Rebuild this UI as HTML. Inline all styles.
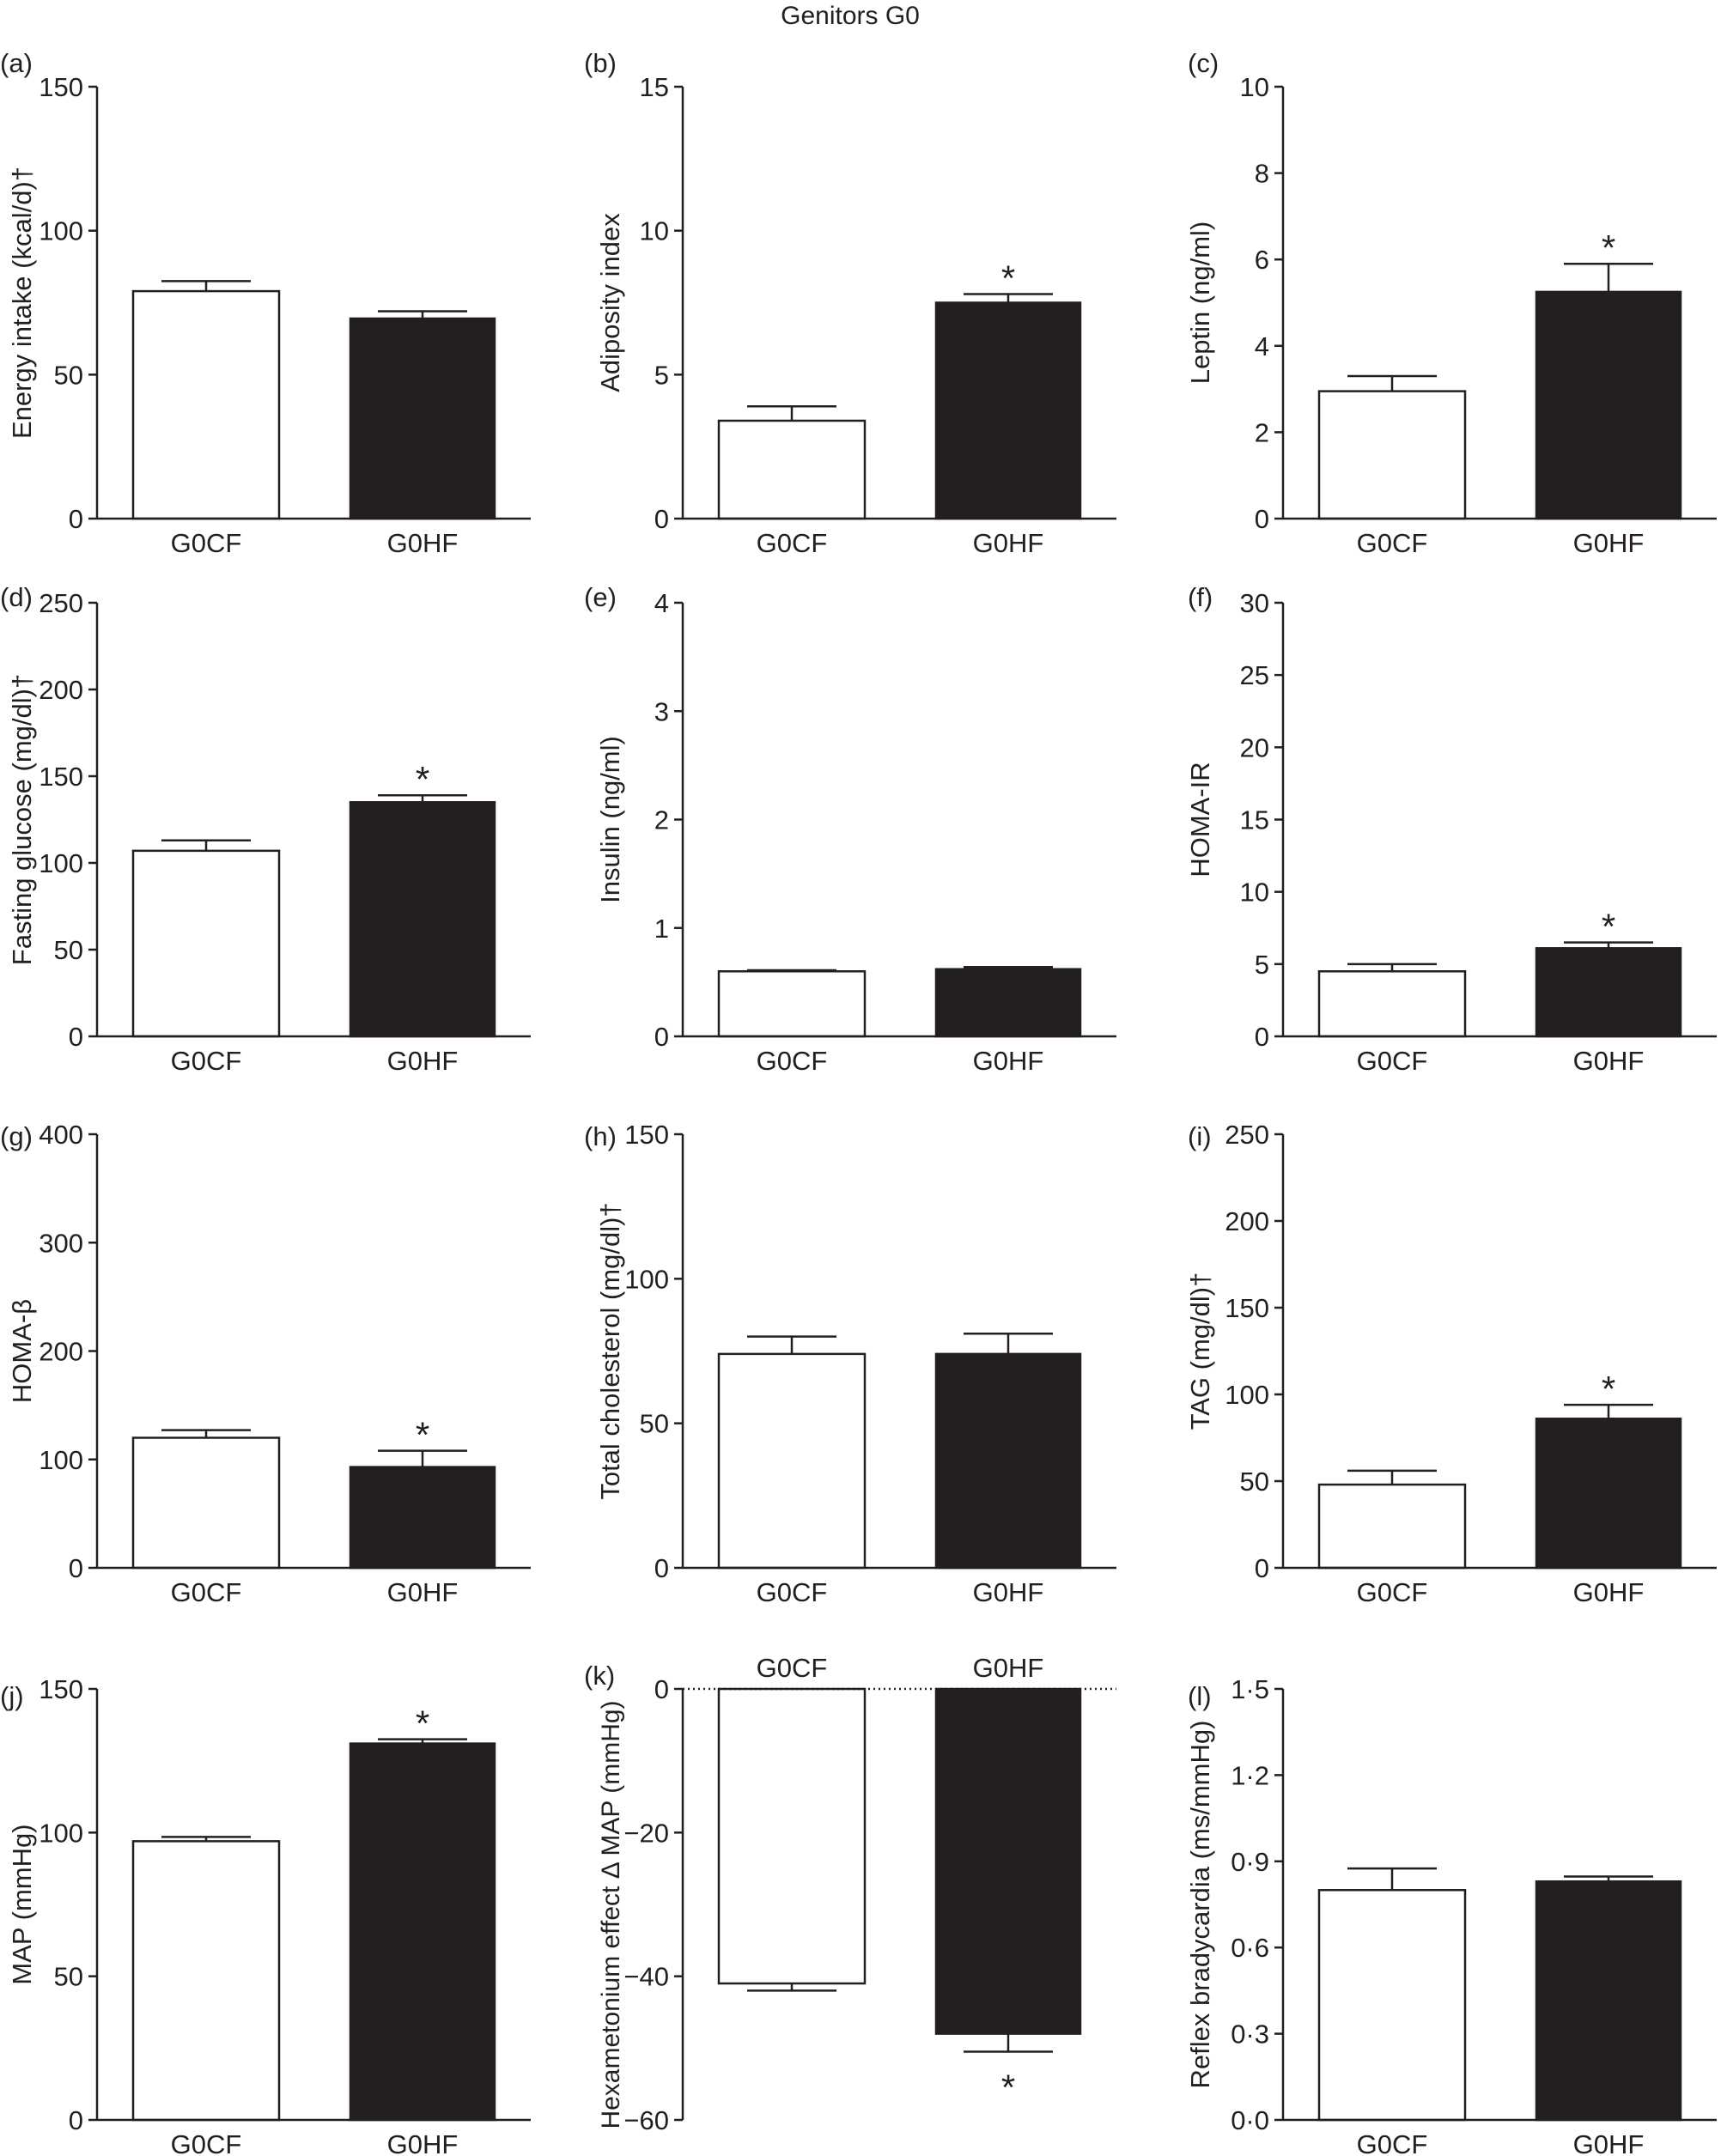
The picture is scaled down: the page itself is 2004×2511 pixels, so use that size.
<!DOCTYPE html>
<html><head><meta charset="utf-8"><style>
html,body{margin:0;padding:0;background:#fff;}
svg{display:block;font-family:"Liberation Sans",Arial,sans-serif;}
</style></head><body>
<svg id="fig" width="2004" height="2511" viewBox="0 0 2004 2511" xmlns="http://www.w3.org/2000/svg">
<text x="990" y="28" font-size="30" text-anchor="middle" fill="#231f20">Genitors G0</text>
</svg>
<script>
const categories = ["G0CF", "G0HF"];
const panelLetters = ["(a)","(b)","(c)","(d)","(e)","(f)","(g)","(h)","(i)","(j)","(k)","(l)"];
const yTitles = ["Energy intake (kcal/d)\u2020","Adiposity index","Leptin (ng/ml)","Fasting glucose (mg/dl)\u2020","Insulin (ng/ml)","HOMA-IR","HOMA-\u03B2","Total cholesterol (mg/dl)\u2020","TAG (mg/dl)\u2020","MAP (mmHg)","Hexametonium effect \u0394 MAP (mmHg)","Reflex bradycardia (ms/mmHg)"];
const cfMeans = [79, 3.4, 2.95, 107, 0.60, 4.5, 120, 74, 48, 97, -41, 0.80];
const cfErrors = [3.5, 0.5, 0.35, 6, 0.01, 0.5, 7, 6, 8, 1.5, 1, 0.075];
const hfMeans = [69.5, 7.5, 5.25, 135, 0.62, 6.1, 93, 74, 86, 131, -48, 0.83];
const hfErrors = [2.5, 0.3, 0.65, 4, 0.02, 0.4, 15, 7, 8, 1.5, 2.5, 0.017];
const significant = [false, true, true, true, false, true, true, false, true, true, true, false];
const yMins = [0,0,0,0,0,0,0,0,0,0,-60,0];
const yMaxs = [150,15,10,250,4,30,400,150,250,150,0,1.5];
const tickLabels = [
 ["0","50","100","150"],["0","5","10","15"],["0","2","4","6","8","10"],
 ["0","50","100","150","200","250"],["0","1","2","3","4"],["0","5","10","15","20","25","30"],
 ["0","100","200","300","400"],["0","50","100","150"],["0","50","100","150","200","250"],
 ["0","50","100","150"],["\u221260","\u221240","\u221220","0"],["0\u00B70","0\u00B73","0\u00B76","0\u00B79","1\u00B72","1\u00B75"]
];
const tickValues = [
 [0,50,100,150],[0,5,10,15],[0,2,4,6,8,10],[0,50,100,150,200,250],[0,1,2,3,4],[0,5,10,15,20,25,30],
 [0,100,200,300,400],[0,50,100,150],[0,50,100,150,200,250],[0,50,100,150],[-60,-40,-20,0],[0,0.3,0.6,0.9,1.2,1.5]
];

const NS = "http://www.w3.org/2000/svg";
const svg = document.getElementById("fig");
const INK = "#231f20";
const FS = 31;
const colX = [113, 795, 1494];
const titleX = [26, 711, 1398];
const letterX = [0, 680, 1383];
const rowTop = [101, 702, 1321, 1967];
const rowBottom = [604, 1207, 1826, 2469];
const letterY = [84, 706, 1334, 1986];
function mk(tag, attrs, parent){const e=document.createElementNS(NS,tag);for(const k in attrs)e.setAttribute(k,attrs[k]);(parent||svg).appendChild(e);return e;}

for(let p=0;p<12;p++){
  const r=Math.floor(p/3), c=p%3;
  const ax=colX[c], top=rowTop[r], bot=rowBottom[r];
  const g=mk("g",{});
  
  
  const yS=v=>bot-(v-yMins[p])/(yMaxs[p]-yMins[p])*(bot-top);
  const xEnd=ax+505;
  const zeroY=yS(0);
  const neg=yMins[p]<0;
  const lt=mk("text",{x:letterX[c],y:neg?letterY[r]-24:letterY[r],"font-size":FS,fill:INK},g);lt.textContent=panelLetters[p];
  
  
  const ya=mk("line",{x1:ax,y1:top,x2:ax,y2:bot,stroke:INK,"stroke-width":2.5},g);
  
  
  tickValues[p].forEach((v,i)=>{
    const y=yS(v);
    mk("line",{x1:ax-10,y1:y,x2:ax,y2:y,stroke:INK,"stroke-width":2.5},g);
    const t=mk("text",{x:ax-16,y:y+11,"font-size":FS,"text-anchor":"end",fill:INK},g);
    t.textContent=tickLabels[p][i];
    
    
  });
  const cy=neg?(top+bot)/2+12:(top+bot)/2;
  const yt=mk("text",{x:titleX[c],y:cy,"font-size":neg?30:FS,"text-anchor":"middle",fill:INK,transform:"rotate(-90 "+titleX[c]+" "+cy+")",dy:10},g);
  yt.textContent=yTitles[p];
  
  
  const offs=[[42,212],[295,463]];
  [[cfMeans[p],cfErrors[p]],[hfMeans[p],hfErrors[p]]].forEach((d,i)=>{
    const x0=ax+offs[i][0], x1=ax+offs[i][1], xc=(x0+x1)/2;
    const yv=yS(d[0]);
    const nb=d[0]<0;
    const ye=nb?yS(d[0]-d[1]):yS(d[0]+d[1]);
    const el=mk("line",{x1:xc,y1:yv,x2:xc,y2:ye,stroke:INK,"stroke-width":2.5},g);
    
    
    mk("line",{x1:xc-52,y1:ye,x2:xc+52,y2:ye,stroke:INK,"stroke-width":2.5},g);
    const rect=mk("rect",{x:x0,y:Math.min(yv,zeroY),width:x1-x0,height:Math.abs(zeroY-yv),fill:i?INK:"#fff",stroke:INK,"stroke-width":2.5},g);
    
    
    const cl=mk("text",{x:xc,y:nb?zeroY-14:bot+39,"font-size":FS,"text-anchor":"middle",fill:INK},g);
    cl.textContent=categories[i];
    
    
    if(i===1&&significant[p]){
      const st=mk("text",{x:xc,y:nb?ye+56:ye-4,"font-size":42,"text-anchor":"middle",fill:INK},g);
      st.textContent="*";
      
      
    }
  });
  const xa=mk("line",{x1:ax,y1:zeroY,x2:xEnd,y2:zeroY,stroke:INK,"stroke-width":2.5},g);
  if(neg){xa.setAttribute("stroke-dasharray","2 4");}
  
  
}
</script>
</body></html>
